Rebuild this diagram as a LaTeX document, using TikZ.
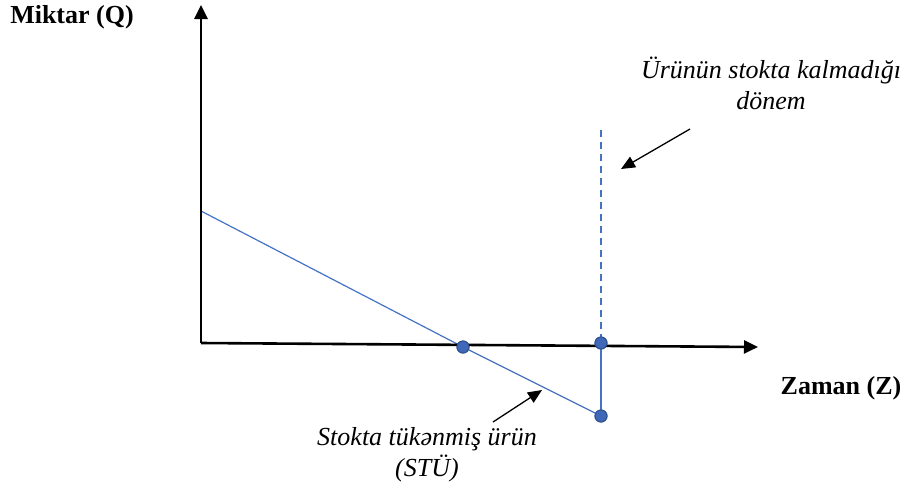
\documentclass[tikz,border=0pt]{standalone}
\usepackage{fontspec}
\setmainfont{Liberation Serif}[ItalicFont={Liberation Serif Italic},BoldFont={Liberation Serif Bold}]
\usetikzlibrary{arrows.meta}
\definecolor{lineblue}{HTML}{4472C4}
\definecolor{dotfill}{HTML}{3F68B8}
\definecolor{dotedge}{HTML}{2F528F}
\tikzset{
  axis/.style={line width=2.6pt, draw=black, -{Triangle[length=14pt,width=13pt]}},
  blueline/.style={line width=1.2pt, draw=lineblue},
  pointer/.style={line width=1.3pt, draw=black, -{Triangle[length=14pt,width=12pt]}},
  dot/.style={circle, fill=dotfill, draw=dotedge, line width=1pt, minimum size=12pt, inner sep=0pt},
  boldlab/.style={font=\fontsize{26}{30}\selectfont\bfseries, inner sep=0pt},
  itlab/.style={font=\fontsize{26}{31}\selectfont\itshape, align=center, inner sep=0pt}
}
\begin{document}
\begin{tikzpicture}[x=1pt,y=-1pt]
\useasboundingbox (0,0) rectangle (908,491);
\coordinate (O) at (201,343);
\coordinate (ytip) at (201,5);
\coordinate (xtip) at (758,347);
\coordinate (L0) at (201,211);
\coordinate (dtop) at (601,130);
\node[dot] (d1) at (463,347) {};
\node[dot] (d2) at (601,343) {};
\node[dot] (d3) at (601,416) {};
% blue lines
\draw[blueline] (L0) -- (d1.center) -- (d3.center);
\draw[blueline] (d2.center) -- (d3.center);
\draw[blueline, dashed, dash pattern=on 7pt off 5pt] (dtop) -- (d2.north);
% axes
\draw[axis] (O) -- (ytip);
\draw[axis] (O) -- (xtip);
\node[dot] at (d1) {};
\node[dot] at (d2) {};
\node[dot] at (d3) {};
% labels
\node[boldlab] (miktar) at (72,17) {Miktar (Q)};
\node[boldlab] (zaman) at (841,388) {Zaman (Z)};
\node[itlab] (urun) at (771,83) {Ürünün stokta kalmadığı\\dönem};
\node[itlab] (stu) at (427,455) {Stokta tükənmiş ürün\\(STÜ)};
% pointers
\coordinate (p1s) at (690,129);
\coordinate (p1e) at (621,169);
\coordinate (p2s) at (493,422);
\coordinate (p2e) at (542,390);
\draw[pointer] (p1s) -- (p1e);
\draw[pointer] (p2s) -- (p2e);
\end{tikzpicture}
\end{document}
